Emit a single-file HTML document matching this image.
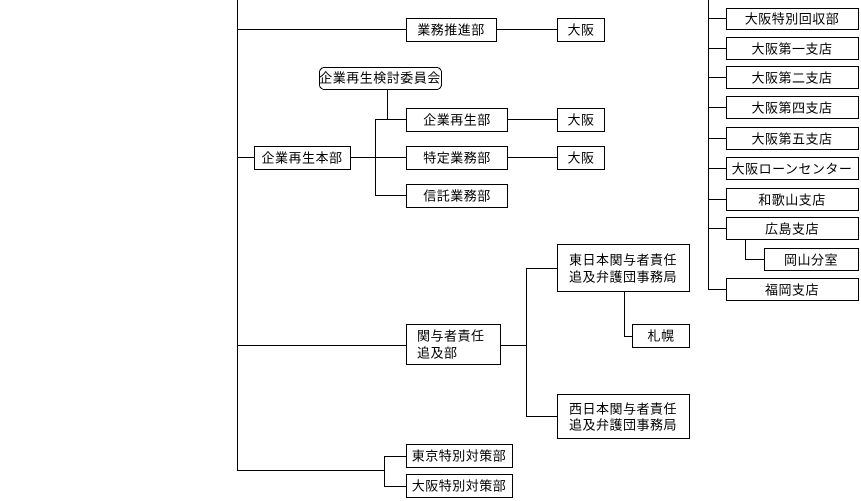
<!DOCTYPE html>
<html><head><meta charset="utf-8"><style>
html,body{margin:0;padding:0;background:#fff;}
svg{display:block}
text{font-family:"Liberation Sans","Noto Sans CJK JP",sans-serif;font-size:13px;fill:#000;text-anchor:middle;dominant-baseline:central;letter-spacing:0.5px}
</style></head><body>
<svg width="861" height="501" viewBox="0 0 861 501" xmlns="http://www.w3.org/2000/svg">
<g stroke="#000" stroke-width="1" fill="none" shape-rendering="crispEdges">
<path d="M237.5 0V470.5M237 29.5H406M237 157.5H254M237 345.5H406M237 470.5H384.5"/>
<path d="M496 29.5H557"/>
<path d="M387.5 89V119.5M375.5 119.5V195.5M350 157.5H406M375 119.5H406M375 195.5H406"/>
<path d="M507 119.5H557M507 157.5H557"/>
<path d="M500 345.5H526.5M526.5 268.5V416.5M526 268.5H557M526 416.5H557"/>
<path d="M624.5 291V336.5H632"/>
<path d="M384.5 456.5V486.5M384 456.5H406M384 486.5H406"/>
<path d="M708.5 0V289.5M708 18.5H726M708 48.5H726M708 77.5H726M708 107.5H726M708 138.5H726M708 168.5H726M708 199.5H726M708 228.5H726M708 289.5H726"/>
<path d="M745.5 239V259.5H764"/>
<rect x="406.5" y="18.5" width="90" height="23"/>
<rect x="557.5" y="18.5" width="47" height="23"/>
<rect x="319.5" y="67.5" width="122" height="22" rx="5"/>
<rect x="254.5" y="146.5" width="96" height="23"/>
<rect x="406.5" y="108.5" width="101" height="23"/>
<rect x="557.5" y="108.5" width="47" height="23"/>
<rect x="406.5" y="146.5" width="101" height="23"/>
<rect x="557.5" y="146.5" width="47" height="23"/>
<rect x="406.5" y="184.5" width="101" height="23"/>
<rect x="406.5" y="324.5" width="94" height="40"/>
<rect x="557.5" y="244.5" width="132" height="47"/>
<rect x="632.5" y="324.5" width="57" height="23"/>
<rect x="557.5" y="394.5" width="132" height="44"/>
<rect x="406.5" y="444.5" width="106" height="23"/>
<rect x="406.5" y="474.5" width="106" height="23"/>
<rect x="726.5" y="8.5" width="132" height="21"/>
<rect x="726.5" y="37.5" width="132" height="22"/>
<rect x="726.5" y="66.5" width="132" height="22"/>
<rect x="726.5" y="96.5" width="132" height="22"/>
<rect x="726.5" y="127.5" width="132" height="22"/>
<rect x="726.5" y="157.5" width="132" height="22"/>
<rect x="726.5" y="188.5" width="132" height="22"/>
<rect x="726.5" y="217.5" width="132" height="22"/>
<rect x="764.5" y="248.5" width="94" height="22"/>
<rect x="726.5" y="278.5" width="132" height="22"/>
</g>
<text x="380" y="78">企業再生検討委員会</text>
<text x="451" y="30">業務推進部</text>
<text x="581" y="30">大阪</text>
<text x="302" y="158">企業再生本部</text>
<text x="457" y="120">企業再生部</text>
<text x="581" y="120">大阪</text>
<text x="457" y="158">特定業務部</text>
<text x="581" y="158">大阪</text>
<text x="457" y="196">信託業務部</text>
<text x="417" y="336" style="text-anchor:start">関与者責任</text>
<text x="417" y="353" style="text-anchor:start">追及部</text>
<text x="623" y="260">東日本関与者責任</text>
<text x="623" y="277">追及弁護団事務局</text>
<text x="661" y="336">札幌</text>
<text x="623" y="409">西日本関与者責任</text>
<text x="623" y="425">追及弁護団事務局</text>
<text x="459" y="456">東京特別対策部</text>
<text x="459" y="486">大阪特別対策部</text>
<text x="792" y="19">大阪特別回収部</text>
<text x="792" y="49">大阪第一支店</text>
<text x="792" y="78">大阪第二支店</text>
<text x="792" y="108">大阪第四支店</text>
<text x="792" y="139">大阪第五支店</text>
<text x="792" y="169">大阪ローンセンター</text>
<text x="792" y="200">和歌山支店</text>
<text x="792" y="229">広島支店</text>
<text x="811" y="260">岡山分室</text>
<text x="792" y="290">福岡支店</text>
</svg>
</body></html>
